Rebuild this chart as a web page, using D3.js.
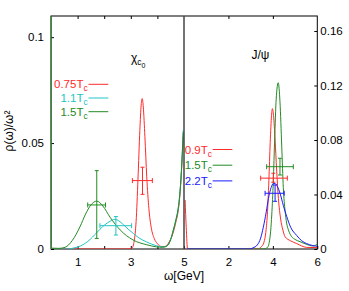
<!DOCTYPE html>
<html>
<head>
<meta charset="utf-8">
<script src="https://cdn.jsdelivr.net/npm/d3@7"></script>
<style>
  body { margin: 0; background: #fff; }
  text { font-family: "Liberation Sans", Arial, sans-serif; }
</style>
</head>
<body>
<svg id="chart" width="349" height="291"></svg>
<script>
// chi_c0 panel: spectral functions [omega, rho/omega^2]
const chiTemps = ['0.75', '1.1', '1.5'];
const chi075 = [[0, 0], [2.9, 0], [3.05, 0.0005], [3.13, 0.004], [3.2, 0.013], [3.27, 0.033], [3.34, 0.056],
  [3.39, 0.068], [3.43, 0.071], [3.47, 0.067], [3.53, 0.053], [3.6, 0.034], [3.68, 0.019], [3.77, 0.01],
  [3.88, 0.005], [4.0, 0.0025], [4.15, 0.0012], [4.3, 0.0012], [4.45, 0.0035], [4.6, 0.008], [4.7, 0.013],
  [4.77, 0.017], [4.85, 0.026], [4.92, 0.04], [4.97, 0.053]];
const chi11 = [[0, 0], [0.6, 0], [0.9, 0.0006], [1.1, 0.0014], [1.3, 0.0028], [1.47, 0.0045], [1.65, 0.0068],
  [1.84, 0.0093], [2.02, 0.0114], [2.22, 0.0131], [2.4, 0.014], [2.55, 0.0133], [2.72, 0.0115], [2.9, 0.0094],
  [3.09, 0.0074], [3.3, 0.0053], [3.6, 0.0033], [3.97, 0.0015], [4.2, 0.001], [4.35, 0.0014], [4.5, 0.0045],
  [4.6, 0.009], [4.7, 0.014], [4.78, 0.019], [4.85, 0.027], [4.92, 0.041], [4.97, 0.056]];
const chi15 = [[0, 0.2], [0.02, 0.0004], [0.3, 0.0003], [0.53, 0.0008], [0.8, 0.004], [1.09, 0.0105],
  [1.3, 0.0165], [1.5, 0.0208], [1.72, 0.0226], [1.95, 0.0203], [2.22, 0.015], [2.6, 0.009], [3.08, 0.0043],
  [3.6, 0.002], [3.97, 0.001], [4.2, 0.0008], [4.35, 0.0013], [4.5, 0.0045], [4.6, 0.009], [4.7, 0.014],
  [4.78, 0.019], [4.85, 0.027], [4.92, 0.041], [4.97, 0.055]];
// error bars: [low, centre, high]
const chiErrW = [[3.06, 3.44, 3.81], [1.84, 2.44, 3.03], [1.38, 1.72, 2.05]];
const chiErrRho = [[0.0258, 0.0323, 0.0386], [0.0066, 0.011, 0.0153], [0.005, 0.0208, 0.037]];

// J/psi panel
const psiTemps = ['0.9', '1.5', '2.2'];
const psi09 = [[0.05, 0.036], [0.1, 0.016], [0.16, 0], [3.3, 0], [3.5, 0.002], [3.6, 0.005], [3.68, 0.012],
  [3.75, 0.025], [3.82, 0.05], [3.88, 0.078], [3.94, 0.098], [3.98, 0.103], [4.03, 0.098], [4.1, 0.08],
  [4.17, 0.058], [4.25, 0.037], [4.35, 0.022], [4.45, 0.014], [4.55, 0.009], [4.8, 0.006], [5.07, 0.004],
  [5.52, 0.0012], [6, 0.001]];
const psi15 = [[0.2, 0], [3.6, 0], [3.75, 0.001], [3.85, 0.006], [3.95, 0.025], [4.02, 0.05], [4.08, 0.08],
  [4.15, 0.11], [4.24, 0.122], [4.32, 0.108], [4.4, 0.075], [4.47, 0.045], [4.55, 0.028], [4.62, 0.019],
  [4.7, 0.014], [4.85, 0.009], [5.0, 0.007], [5.22, 0.0054], [5.5, 0.0035], [5.82, 0.0022], [6, 0.0037]];
const psi22 = [[0.15, 0], [2.95, 0], [3.1, 0.0008], [3.3, 0.003], [3.45, 0.008], [3.57, 0.016], [3.7, 0.027],
  [3.8, 0.037], [3.92, 0.045], [4.02, 0.048], [4.1, 0.048], [4.2, 0.046], [4.32, 0.041], [4.47, 0.032],
  [4.62, 0.024], [4.8, 0.016], [5.07, 0.01], [5.3, 0.006], [5.52, 0.004], [5.8, 0.0025], [6, 0.002]];
const psiErrW = [[3.45, 4.02, 4.65], [3.72, 4.32, 4.92], [3.65, 4.1, 4.51]];
const psiErrRho = [[0.049, 0.052, 0.0556], [0.0543, 0.0604, 0.0666], [0.035, 0.0409, 0.047]];

const chiTicksX = [1, 2, 3, 4, 5];
const psiTicksX = [2, 4, 6];
const chiTicksY = [0, 0.05, 0.1];
const psiTicksY = [0, 0.04, 0.08, 0.12, 0.16];

const chiColors = ['#ff2a2a', '#22c4c4', '#238b23'];
const psiColors = ['#ff2a2a', '#238b23', '#1a1aff'];

const plotLeft = 51, plotMid = 184, plotRight = 317.3, plotTop = 16, plotBottom = 249;
const svg = d3.select('#chart');

const xL = d3.scaleLinear().domain([0, 5]).range([plotLeft, plotMid]);
const xR = d3.scaleLinear().domain([0, 6]).range([plotMid, plotRight]);
const yL = d3.scaleLinear().domain([0, 0.11]).range([plotBottom, plotTop]);
const yR = d3.scaleLinear().domain([0, 0.171]).range([plotBottom, plotTop]);

const defs = svg.append('defs');
defs.append('clipPath').attr('id', 'clipL').append('rect')
  .attr('x', plotLeft - 1).attr('y', plotTop).attr('width', plotMid - plotLeft + 1).attr('height', plotBottom - plotTop);
defs.append('clipPath').attr('id', 'clipR').append('rect')
  .attr('x', plotMid).attr('y', plotTop).attr('width', plotRight - plotMid).attr('height', plotBottom - plotTop);

// axes
const fmt = d3.format('~g');
function styleAxis(g) {
  g.select('.domain').remove();
  g.selectAll('line').attr('stroke', '#000');
  g.selectAll('text').attr('font-size', 11.5).attr('fill', '#000')
    .style('font-family', '"Liberation Sans", Arial, sans-serif');
}
svg.append('g').attr('transform', `translate(${plotLeft},0)`)
  .call(d3.axisLeft(yL).tickValues(chiTicksY).tickSize(-3).tickPadding(7).tickFormat(fmt))
  .call(styleAxis);
svg.append('g').attr('transform', `translate(${plotRight},0)`)
  .call(d3.axisRight(yR).tickValues(psiTicksY).tickSize(-3).tickPadding(3).tickFormat(fmt))
  .call(styleAxis);
svg.append('g').attr('transform', `translate(0,${plotBottom})`)
  .call(d3.axisBottom(xL).tickValues(chiTicksX).tickSize(-3).tickPadding(9).tickFormat(d => d % 2 ? fmt(d) : ''))
  .call(styleAxis);
svg.append('g').attr('transform', `translate(0,${plotBottom})`)
  .call(d3.axisBottom(xR).tickValues(psiTicksX).tickSize(-3).tickPadding(9).tickFormat(fmt))
  .call(styleAxis);
svg.append('g').attr('transform', `translate(0,${plotTop})`)
  .call(d3.axisTop(xL).tickValues(chiTicksX.slice(0, 4)).tickSize(-3).tickFormat(''))
  .call(styleAxis);
svg.append('g').attr('transform', `translate(0,${plotTop})`)
  .call(d3.axisTop(xR).tickValues(psiTicksX.slice(0, 2)).tickSize(-3).tickFormat(''))
  .call(styleAxis);

// frame
svg.append('rect').attr('x', plotLeft).attr('y', plotTop).attr('width', plotRight - plotLeft).attr('height', plotBottom - plotTop)
  .attr('fill', 'none').attr('stroke', '#000').attr('stroke-width', 1);

// curves
const lineL = d3.line().x(d => xL(d[0])).y(d => yL(d[1])).curve(d3.curveMonotoneX);
const lineR = d3.line().x(d => xR(d[0])).y(d => yR(d[1])).curve(d3.curveMonotoneX);

const gL = svg.append('g').attr('clip-path', 'url(#clipL)');
[chi075, chi11, chi15].forEach((s, i) => {
  gL.append('path').attr('d', lineL(s)).attr('fill', 'none')
    .attr('stroke', chiColors[i]).attr('stroke-width', 1);
});
const gR = svg.append('g').attr('clip-path', 'url(#clipR)');
[psi09, psi15, psi22].forEach((s, i) => {
  gR.append('path').attr('d', lineR(s)).attr('fill', 'none')
    .attr('stroke', psiColors[i]).attr('stroke-width', 1);
});

// divider
svg.append('line').attr('x1', plotMid).attr('x2', plotMid).attr('y1', plotTop).attr('y2', plotBottom)
  .attr('stroke', '#444').attr('stroke-width', 1.5);

// error bars
function errorBars(g, x, y, ws, rs, colors) {
  ws.forEach((w, i) => {
    const r = rs[i];
    const c = colors[i];
    const e = g.append('g').attr('stroke', c).attr('stroke-width', 1);
    e.append('line').attr('x1', x(w[0])).attr('x2', x(w[2])).attr('y1', y(r[1])).attr('y2', y(r[1]));
    e.append('line').attr('x1', x(w[1])).attr('x2', x(w[1])).attr('y1', y(r[0])).attr('y2', y(r[2]));
    [w[0], w[2]].forEach(v => e.append('line').attr('x1', x(v)).attr('x2', x(v))
      .attr('y1', y(r[1]) - 2.5).attr('y2', y(r[1]) + 2.5));
    [r[0], r[2]].forEach(v => e.append('line').attr('x1', x(w[1]) - 2).attr('x2', x(w[1]) + 2)
      .attr('y1', y(v)).attr('y2', y(v)));
  });
}
errorBars(svg, xL, yL, chiErrW, chiErrRho, chiColors);
errorBars(svg, xR, yR, psiErrW, psiErrRho, psiColors);

// legends
function legend(temps, colors, textX, lineX1, lineX2, baseY, stepY) {
  temps.forEach((t, i) => {
    const by = baseY + i * stepY;
    const txt = svg.append('text').attr('x', textX).attr('y', by).attr('text-anchor', 'end')
      .attr('font-size', 11.5).attr('fill', colors[i]);
    txt.append('tspan').text(t + 'T');
    txt.append('tspan').attr('dy', 3).attr('font-size', 8.5).text('c');
    svg.append('line').attr('x1', lineX1).attr('x2', lineX2).attr('y1', by - 4).attr('y2', by - 4)
      .attr('stroke', colors[i]).attr('stroke-width', 1);
  });
}
legend(chiTemps, chiColors, 87.7, 88.5, 108.3, 88.3, 13.7);
legend(psiTemps, psiColors, 212, 212.7, 232.3, 153.5, 15.7);

// titles
const chiTitle = svg.append('text').attr('x', 131).attr('y', 62).attr('font-size', 12).attr('fill', '#000');
chiTitle.append('tspan').text('χ');
chiTitle.append('tspan').attr('dy', 3).attr('font-size', 8.5).text('c');
chiTitle.append('tspan').attr('dy', 2.5).attr('font-size', 7).text('0');
svg.append('text').attr('x', 251.5).attr('y', 58.5).attr('font-size', 12).attr('fill', '#000').text('J/ψ');

// axis labels
svg.append('text').attr('x', plotMid).attr('y', 280).attr('text-anchor', 'middle')
  .attr('font-size', 12).attr('fill', '#000').text('ω[GeV]');
svg.append('text').attr('transform', 'translate(13,131) rotate(-90)').attr('text-anchor', 'middle')
  .attr('font-size', 12).attr('fill', '#000').text('ρ(ω)/ω²');
</script>
</body>
</html>
